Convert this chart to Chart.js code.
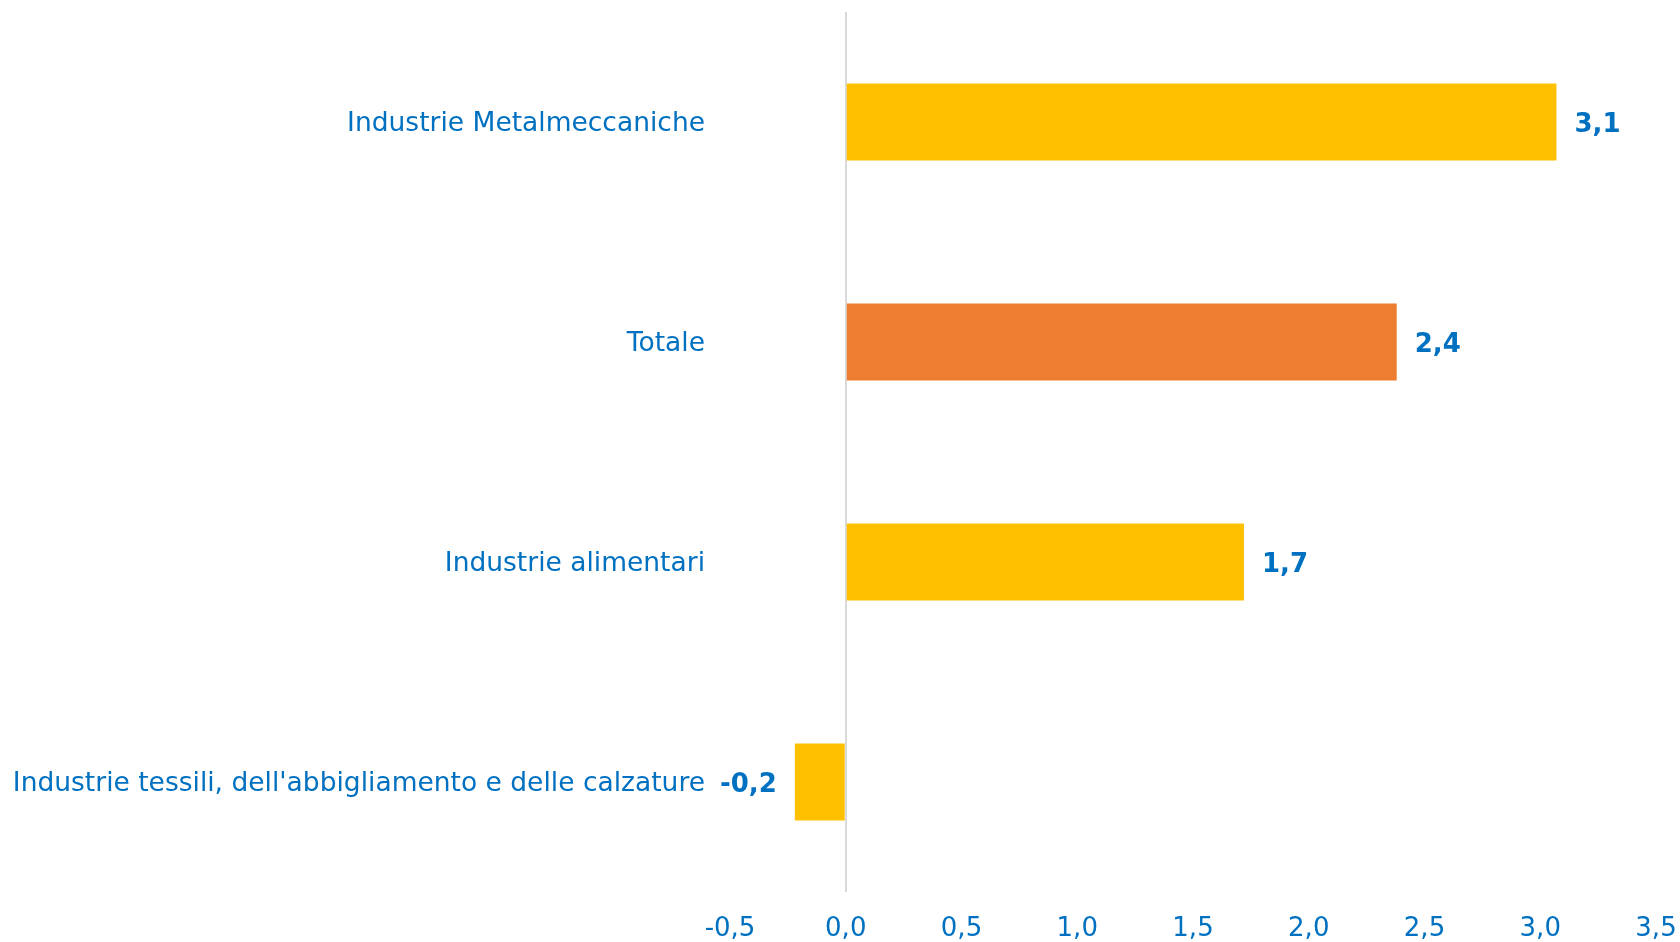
<!DOCTYPE html>
<html>
<head>
<meta charset="utf-8">
<script src="https://cdn.jsdelivr.net/npm/chart.js@4/dist/chart.umd.min.js"></script>
<style>
  html, body { margin: 0; padding: 0; background: #fff; }
  #wrap { width: 1680px; height: 942px; }
</style>
</head>
<body>
<div id="wrap"><canvas id="chartSettori" width="1680" height="942"></canvas></div>
<script>
// dati
const categorie = [
  "Industrie Metalmeccaniche",
  "Totale",
  "Industrie alimentari",
  "Industrie tessili, dell'abbigliamento e delle calzature",
];
const valori = [3.07, 2.38, 1.72, -0.22];
const coloriBarre = ["#FFC000", "#ED7D31", "#FFC000", "#FFC000"];
const tickMin = -0.5;
const tickMax = 3.5;
const tickPasso = 0.5;

const BLU = "#0070C0";
const FONT = "'DejaVu Sans', Verdana, sans-serif";

function formatVirgola(v) {
  return v.toFixed(1).replace(".", ",");
}

// etichette valore accanto alle barre
const etichetteValori = {
  id: "etichetteValori",
  afterDatasetsDraw(chart) {
    const { ctx } = chart;
    const meta = chart.getDatasetMeta(0);
    ctx.save();
    ctx.font = "bold 26px " + FONT;
    ctx.fillStyle = BLU;
    ctx.textBaseline = "middle";
    meta.data.forEach((bar, i) => {
      const v = valori[i];
      if (v >= 0) {
        ctx.textAlign = "left";
        ctx.fillText(formatVirgola(v), bar.x + 18, bar.y + 3);
      } else {
        ctx.textAlign = "right";
        ctx.fillText(formatVirgola(v), bar.x - 18, bar.y + 3);
      }
    });
    ctx.restore();
  },
};

new Chart(document.getElementById("chartSettori"), {
  type: "bar",
  data: {
    labels: categorie,
    datasets: [
      {
        data: valori,
        backgroundColor: coloriBarre,
        borderWidth: 0,
        barPercentage: 0.35,
        categoryPercentage: 1,
      },
    ],
  },
  options: {
    indexAxis: "y",
    responsive: false,
    animation: false,
    layout: { padding: { top: 12, right: 24, bottom: 0, left: 0 } },
    plugins: {
      legend: { display: false },
      tooltip: { enabled: false },
    },
    scales: {
      x: {
        min: tickMin,
        max: tickMax,
        z: 1,
        border: { display: false },
        grid: {
          drawTicks: false,
          lineWidth: 2,
          color: (c) => (c.tick && c.tick.value === 0 ? "#D9D9D9" : "rgba(0,0,0,0)"),
        },
        ticks: {
          stepSize: tickPasso,
          padding: 22,
          color: BLU,
          font: { family: FONT, size: 26 },
          callback: (v) => formatVirgola(v),
          maxRotation: 0,
        },
        afterFit: (s) => {
          s.height = 50;
          s.paddingLeft = 0;
          s.paddingRight = 0;
        },
      },
      y: {
        border: { display: false },
        grid: { display: false, drawTicks: false },
        ticks: {
          padding: 25,
          labelOffset: 2,
          color: BLU,
          font: { family: FONT, size: 26.5 },
        },
        afterFit: (s) => {
          s.width = 730;
          s.paddingTop = 0;
          s.paddingBottom = 0;
        },
      },
    },
  },
  plugins: [etichetteValori],
});
</script>
</body>
</html>
